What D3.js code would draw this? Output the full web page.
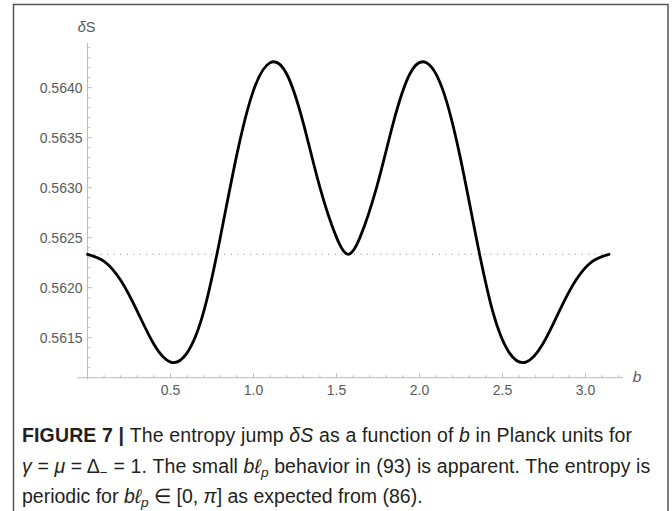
<!DOCTYPE html>
<html>
<head>
<meta charset="utf-8">
<script src="https://cdn.jsdelivr.net/npm/d3@7/dist/d3.min.js"></script>
<style>
  html, body { margin: 0; padding: 0; background: #fff; }
  svg { display: block; }
</style>
</head>
<body>
<svg id="chart" width="672" height="511"></svg>
<script>
// ---- data ----
const bValues = [0, 0.1, 0.2, 0.3, 0.4, 0.5, 0.6, 0.7, 0.8, 0.9, 1.0, 1.1, 1.2, 1.3, 1.4, 1.5, 1.5708,
  1.6416, 1.7416, 1.8416, 1.9416, 2.0416, 2.1416, 2.2416, 2.3416, 2.4416, 2.5416, 2.6416, 2.7416, 2.8416, 2.9416, 3.0416, 3.1416];
const deltaS = [0.562334, 0.562264, 0.562074, 0.561764, 0.561434, 0.561256, 0.561348, 0.561760, 0.562503, 0.563333, 0.563973, 0.564250, 0.564137, 0.563646, 0.563003, 0.562503, 0.562334,
  0.562503, 0.563003, 0.563646, 0.564137, 0.564250, 0.563973, 0.563333, 0.562503, 0.561760, 0.561348, 0.561256, 0.561434, 0.561764, 0.562074, 0.562264, 0.562334];
const referenceLevel = 0.562334;
const xTickValues = [0.5, 1.0, 1.5, 2.0, 2.5, 3.0];
const yTickValues = [0.5615, 0.5620, 0.5625, 0.5630, 0.5635, 0.5640];
const xDomain = [0, Math.PI];
const yDomain = [0.5615, 0.5640];
const xAxisExtent = [-0.063, 3.225];
const yAxisExtent = [0.56110, 0.564447];
const axisCrossY = 0.56110;

const svg = d3.select("#chart");

// outer frame
svg.append("rect").attr("x", 13.5).attr("y", 4.5).attr("width", 654.5).attr("height", 520)
  .attr("fill", "none").attr("stroke", "#555").attr("stroke-width", 1.5);

const x = d3.scaleLinear().domain(xDomain).range([87.5, 87.5 + 166 * Math.PI]);
const y = d3.scaleLinear().domain(yDomain).range([337.7, 87.7]);

const axisColor = "#bdbdbd";
const labelColor = "#5a5a5a";
const tickFont = "Liberation Sans, Arial, sans-serif";

// x axis
const xAxisY = y(axisCrossY);
svg.append("line").attr("x1", x(xAxisExtent[0])).attr("x2", x(xAxisExtent[1]))
  .attr("y1", xAxisY).attr("y2", xAxisY).attr("stroke", axisColor).attr("stroke-width", 1);
const xMinor = d3.range(1, 33).map(i => i / 10);
svg.append("g").selectAll("line").data(xMinor).join("line")
  .attr("x1", d => x(d)).attr("x2", d => x(d))
  .attr("y1", xAxisY).attr("y2", d => xAxisY - (Math.abs(d * 2 - Math.round(d * 2)) < 1e-6 ? 4.5 : 2.5))
  .attr("stroke", axisColor).attr("stroke-width", 1);
svg.append("g").selectAll("text").data(xTickValues).join("text")
  .attr("x", d => x(d)).attr("y", xAxisY + 17.5)
  .attr("text-anchor", "middle").attr("font-family", tickFont).attr("font-size", 14)
  .attr("fill", labelColor).text(d => d3.format(".1f")(d));

// y axis
const yAxisX = x(0);
svg.append("line").attr("x1", yAxisX).attr("x2", yAxisX)
  .attr("y1", y(yAxisExtent[0]) + 1.5).attr("y2", y(yAxisExtent[1]))
  .attr("stroke", axisColor).attr("stroke-width", 1);
const yMinor = d3.range(5612, 5645).map(i => i / 10000);
svg.append("g").selectAll("line").data(yMinor).join("line")
  .attr("x1", yAxisX).attr("x2", d => yAxisX + (Math.round(d * 10000) % 5 === 0 ? 4.5 : 2.5))
  .attr("y1", d => y(d)).attr("y2", d => y(d))
  .attr("stroke", axisColor).attr("stroke-width", 1);
svg.append("g").selectAll("text").data(yTickValues).join("text")
  .attr("x", yAxisX - 5).attr("y", d => y(d) + 5)
  .attr("text-anchor", "end").attr("font-family", tickFont).attr("font-size", 14)
  .attr("fill", labelColor).text(d => d3.format(".4f")(d));

// axis titles
const yTitle = svg.append("text").attr("x", yAxisX - 1).attr("y", 32)
  .attr("text-anchor", "middle").attr("font-family", tickFont).attr("font-size", 14.5).attr("fill", labelColor);
yTitle.append("tspan").attr("font-style", "italic").text("δ");
yTitle.append("tspan").text("S");
svg.append("text").attr("x", 637).attr("y", 382).attr("text-anchor", "middle")
  .attr("font-family", tickFont).attr("font-size", 15.5).attr("font-style", "italic")
  .attr("fill", labelColor).text("b");

// dotted reference line
svg.append("line").attr("x1", x(0)).attr("x2", x(Math.PI))
  .attr("y1", y(referenceLevel)).attr("y2", y(referenceLevel))
  .attr("stroke", "#9a9a9a").attr("stroke-width", 1).attr("stroke-dasharray", "1.2,5.3");

// curve
const pts = bValues.map((b, i) => [b, deltaS[i]]);
svg.append("path").datum(pts)
  .attr("d", d3.line().x(d => x(d[0])).y(d => y(d[1])).curve(d3.curveNatural))
  .attr("fill", "none").attr("stroke", "#000").attr("stroke-width", 2.8)
  .attr("stroke-linejoin", "round").attr("stroke-linecap", "round");

// caption
const capFont = "Liberation Sans, Arial, sans-serif";
const capSize = 19.5;
const capColor = "#231f20";
function capLine(yPos, spacing, parts) {
  const t = svg.append("text").attr("x", 22).attr("y", yPos)
    .attr("font-family", capFont).attr("font-size", capSize).attr("fill", capColor)
    .attr("letter-spacing", spacing);
  parts.forEach(p => {
    const s = t.append("tspan").text(p.t);
    if (p.b) s.attr("font-weight", "bold");
    if (p.i) s.attr("font-style", "italic");
    if (p.sub) s.attr("font-size", capSize * 0.7).attr("dy", 4);
    if (p.up) s.attr("dy", -4);
  });
  return t;
}
capLine(442, 0.14, [
  {t: "FIGURE 7 | ", b: true},
  {t: "The entropy jump "}, {t: "δS", i: true}, {t: " as a function of "}, {t: "b", i: true},
  {t: " in Planck units for"}
]);
capLine(473, 0.11, [
  {t: "γ", i: true}, {t: " = "}, {t: "μ", i: true}, {t: " = Δ"}, {t: "−", sub: true},
  {t: " = 1. The small ", up: true}, {t: "bℓ", i: true}, {t: "p", i: true, sub: true},
  {t: " behavior in (93) is apparent. The entropy is", up: true}
]);
capLine(503, 0, [
  {t: "periodic for "}, {t: "bℓ", i: true}, {t: "p", i: true, sub: true},
  {t: " ∈ [0, ", up: true}, {t: "π", i: true}, {t: "] as expected from (86)."}
]);
</script>
</body>
</html>
